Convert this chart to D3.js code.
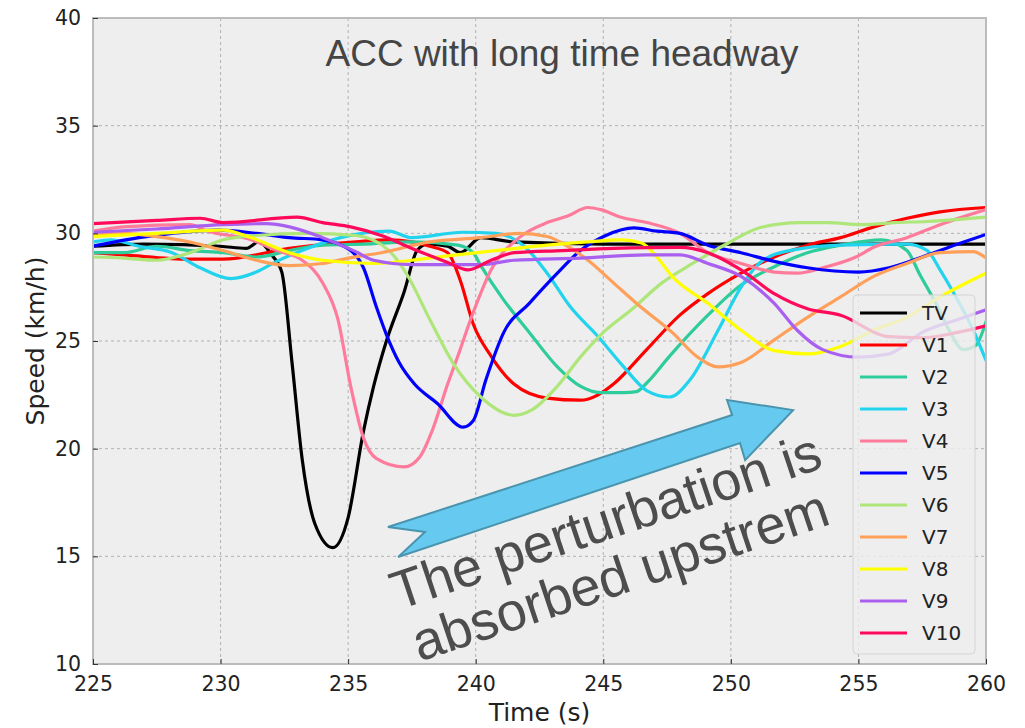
<!DOCTYPE html>
<html><head><meta charset="utf-8">
<script src="https://cdn.jsdelivr.net/npm/d3@7"></script>
<style>body{margin:0;background:#fff}svg{display:block}</style>
</head><body><svg id="c" width="1025" height="728"></svg>
<script>
const seriesNames = ["TV","V1","V2","V3","V4","V5","V6","V7","V8","V9","V10"];
const seriesColors = ["#000000","#ff0000","#2ecc9a","#22d3ee","#ff7b9c","#0000ff","#aee67a","#ffa05a","#ffff00","#a95ff0","#ff0a5a"];
const xTicks = [225,230,235,240,245,250,255,260];
const yTicks = [10,15,20,25,30,35,40];

const TV = [[225,29.4],[227,29.5],[230,29.4],[231,29.3],[231.5,29.6],[232,29.0],[232.4,28.2],[232.8,24],[233.2,19.5],[233.7,16.5],[234.4,15.4],[235.0,16.8],[235.6,20.8],[236.0,22.9],[236.5,25.0],[237.2,27.3],[237.7,29.2],[238.1,29.5],[238.9,29.4],[239.4,29.1],[240.2,29.8],[241.5,29.6],[245,29.5],[260,29.5]];
const V1 = [[225,29.1],[226.2,29.0],[228.8,28.8],[230.1,28.8],[232.7,29.3],[235.3,29.6],[236.6,29.7],[237.5,29.6],[238.2,29.4],[238.9,29.1],[239.4,27.8],[239.9,25.8],[240.6,24.3],[241.5,23.0],[242.8,22.35],[244.1,22.25],[244.8,22.5],[245.4,23.0],[246.7,24.6],[248.0,26.2],[249.1,27.2],[250.4,28.15],[251.7,28.9],[253.0,29.45],[254.3,29.8],[255.6,30.3],[256.9,30.7],[258.2,31.0],[260,31.2]];
const V2 = [[225,29.1],[226.2,29.1],[227.5,29.4],[228.8,29.2],[230.1,29.1],[231.4,28.9],[232.7,29.2],[234,29.45],[235.6,29.5],[237.5,29.6],[239.3,29.45],[239.9,29.1],[240.2,28.5],[241.1,26.9],[242.1,25.4],[243.2,23.8],[244.1,22.9],[244.9,22.6],[245.8,22.6],[246.3,22.65],[246.7,23.05],[247.6,24.3],[249.1,26.2],[250.4,27.6],[251.7,28.45],[253.0,29.1],[254.3,29.45],[255.9,29.7],[256.9,29.2],[257.4,28.1],[258.1,26.6],[258.6,25.4],[259.1,24.6],[259.6,24.8],[260,25.9]];
const V3 = [[225,29.6],[225.7,29.7],[226.8,29.4],[228.1,29.1],[229.2,28.4],[230.4,27.9],[231.4,28.2],[232.2,28.7],[233.4,29.3],[234.7,29.8],[236.6,30.1],[237.5,29.8],[239.5,30.05],[240.8,30.0],[241.9,29.4],[242.8,28.15],[243.7,26.6],[244.8,25.2],[245.8,23.8],[246.7,22.7],[247.6,22.4],[248.4,23.2],[249.5,25.5],[250.4,27.5],[251.1,28.6],[252.3,29.2],[254.3,29.45],[256.9,29.5],[257.7,29.2],[258.2,28.3],[258.7,27.3],[259.5,25.5],[260,24.1]];
const V4 = [[225,30.1],[226.2,30.3],[228.8,30.4],[229.5,30.1],[231.2,29.7],[232.2,29.2],[233.2,28.75],[234,27.7],[234.6,26.0],[235.1,22.9],[235.6,20.5],[236.1,19.55],[237.2,19.15],[237.8,19.6],[238.3,20.85],[238.9,23.0],[239.3,24.3],[239.8,26.0],[240.6,28.3],[241.7,29.8],[242.8,30.5],[243.6,30.8],[244.4,31.2],[244.9,31.1],[245.7,30.75],[246.7,30.5],[248.0,30.0],[249.1,29.1],[250.4,28.6],[251.7,28.2],[252.6,28.15],[253.6,28.4],[254.9,28.9],[255.6,29.35],[256.9,29.8],[258.2,30.4],[260,31.1]];
const V5 = [[225,29.4],[226.8,29.8],[228.1,30.0],[229.9,30.15],[231.4,30.0],[232.7,29.8],[234.0,29.7],[235.1,29.2],[235.6,28.4],[236.1,26.6],[236.5,25.3],[237.0,24.0],[237.6,23.0],[238.5,22.1],[239.5,21.0],[239.9,21.3],[240.4,23.2],[241.1,25.4],[242.1,26.75],[243.2,28.15],[244.1,29.2],[245.1,29.9],[246.2,30.25],[247.1,30.1],[248.0,30.0],[249.1,29.45],[250.4,29.1],[251.7,28.7],[253.0,28.4],[255.0,28.2],[256.2,28.4],[257.5,28.9],[258.9,29.5],[260,29.95]];
const V6 = [[225,28.9],[226.2,28.85],[227.5,28.75],[228.8,29.1],[230.1,29.7],[231.4,29.9],[233.4,30.0],[235.3,29.9],[236.6,29.2],[237.3,28.1],[238.2,26.0],[239.1,24.0],[240.2,22.4],[241.5,21.55],[242.2,21.8],[243.2,22.9],[244.1,24.25],[245.0,25.4],[246.1,26.45],[247.3,27.7],[248.5,28.6],[249.9,29.55],[251.1,30.25],[252.7,30.5],[253.8,30.5],[255.1,30.4],[256.4,30.5],[257.7,30.55],[260,30.75]];
const V7 = [[225,29.9],[226.2,30.0],[227.5,29.85],[228.8,29.6],[230.1,29.2],[231.4,28.75],[232.7,28.5],[234.0,28.6],[235.0,28.85],[236.3,29.1],[238.2,29.6],[240.2,29.8],[241.7,30.0],[242.8,29.85],[243.6,29.4],[244.4,28.75],[245.4,27.7],[246.4,26.65],[247.7,25.4],[248.7,24.25],[249.5,23.8],[250.4,24.0],[251.7,25.05],[253.0,26.1],[254.3,27.05],[255.6,28.0],[256.9,28.6],[258.2,29.1],[259.5,29.15],[260,28.85]];
const V8 = [[225,29.85],[227.5,30.0],[230.1,30.15],[231.2,29.8],[232.7,29.1],[234.0,28.75],[236.0,28.6],[237.5,28.75],[238.9,28.95],[240.8,29.2],[242.8,29.45],[244.4,29.6],[245.7,29.7],[246.5,29.55],[247.1,28.9],[247.7,28.0],[249.1,26.75],[250.4,25.5],[251.7,24.55],[253.0,24.4],[254.3,24.75],[255.6,25.5],[256.9,26.1],[258.2,27.05],[260,28.15]];
const V9 = [[225,30.05],[227.5,30.2],[230.1,30.4],[231.8,30.45],[232.7,30.3],[234.0,29.8],[235.3,29.15],[236.0,28.75],[237.5,28.55],[240.2,28.55],[241.5,28.75],[244.1,28.85],[246.7,29.0],[248.0,29.0],[249.1,28.6],[250.4,28.0],[251.7,26.75],[252.6,25.5],[253.6,24.6],[255.0,24.25],[256.2,24.4],[257.5,25.4],[258.9,26.0],[260,26.45]];
const V10 = [[225,30.45],[227.5,30.6],[229.2,30.7],[230.1,30.5],[233.0,30.75],[234.0,30.5],[235.1,30.3],[236.3,29.9],[237.5,29.3],[238.9,28.65],[239.7,28.3],[240.6,28.75],[241.5,29.1],[243.4,29.2],[245.4,29.3],[248.0,29.35],[249.1,29.1],[250.4,28.3],[251.7,27.2],[253.0,26.5],[254.3,26.2],[256.2,25.2],[257.5,25.15],[258.9,25.4],[260,25.7]];
const seriesData = [TV,V1,V2,V3,V4,V5,V6,V7,V8,V9,V10];

const titleText = "ACC with long time headway";
const noteLines = ["The perturbation is","absorbed upstrem"];
const arrowShape = [[236.56,16.36],[250.05,21.56],[249.85,22.26],[252.44,21.79],[250.56,19.47],[250.36,20.26],[236.96,14.97],[238.01,16.13]];

const svg = d3.select("#c");
const L=93,R=986,T=18,B=664;
const x = d3.scaleLinear().domain([225,260]).range([L,R]);
const y = d3.scaleLinear().domain([10,40]).range([B,T]);

svg.append("rect").attr("x",L).attr("y",T).attr("width",R-L).attr("height",B-T).attr("fill","#eeeeee");
svg.append("g").selectAll("line").data(xTicks).join("line")
  .attr("x1",d=>x(d)).attr("x2",d=>x(d)).attr("y1",T).attr("y2",B)
  .attr("stroke","#b2b2b2").attr("stroke-width",1).attr("stroke-dasharray","3,3");
svg.append("g").selectAll("line").data(yTicks).join("line")
  .attr("y1",d=>y(d)).attr("y2",d=>y(d)).attr("x1",L).attr("x2",R)
  .attr("stroke","#b2b2b2").attr("stroke-width",1).attr("stroke-dasharray","3,3");

svg.append("clipPath").attr("id","clip").append("rect").attr("x",L).attr("y",T).attr("width",R-L).attr("height",B-T);
const line = d3.line().x(d=>x(d[0])).y(d=>y(d[1])).curve(d3.curveMonotoneX);
const lg = svg.append("g").attr("clip-path","url(#clip)");
seriesData.forEach((s,i)=>{
  lg.append("path").attr("d",line(s)).attr("fill","none").attr("stroke",seriesColors[i])
    .attr("stroke-width",3.2).attr("stroke-linejoin","round").attr("stroke-linecap","round");
});

svg.append("rect").attr("x",L).attr("y",T).attr("width",R-L).attr("height",B-T)
  .attr("fill","none").attr("stroke","#bcbcbc").attr("stroke-width",2);

const xa = svg.append("g").attr("transform",`translate(0,${B})`)
  .call(d3.axisBottom(x).tickValues(xTicks).tickSizeInner(-5).tickSizeOuter(0).tickPadding(12).tickFormat(d3.format("d")));
const ya = svg.append("g").attr("transform",`translate(${L},0)`)
  .call(d3.axisLeft(y).tickValues(yTicks).tickSizeInner(-5).tickSizeOuter(0).tickPadding(12).tickFormat(d3.format("d")));
[xa,ya].forEach(a=>{
  a.select(".domain").remove();
  a.selectAll(".tick line").attr("stroke","#333").attr("stroke-width",1);
  a.selectAll(".tick text").attr("font-family","DejaVu Sans").attr("font-size",20.5).attr("fill","#222");
});

svg.append("text").attr("x",(L+R)/2).attr("y",721).attr("text-anchor","middle")
  .attr("font-family","DejaVu Sans").attr("font-size",25).attr("fill","#222").text("Time (s)");
svg.append("text").attr("transform",`translate(44,${(T+B)/2}) rotate(-90)`).attr("text-anchor","middle")
  .attr("font-family","DejaVu Sans").attr("font-size",25).attr("fill","#222").text("Speed (km/h)");

svg.append("text").attr("x",562).attr("y",66).attr("text-anchor","middle")
  .attr("font-family","Liberation Sans, Arial").attr("font-size",37).attr("fill","#454545").text(titleText);

const lgd = svg.append("g");
lgd.append("rect").attr("x",853).attr("y",295).attr("width",122).attr("height",359).attr("rx",4)
  .attr("fill","#eeeeee").attr("fill-opacity",0.8).attr("stroke","#d4d4d4");
seriesNames.forEach((n,i)=>{
  const yy = 313 + i*32;
  lgd.append("line").attr("x1",860).attr("x2",907).attr("y1",yy).attr("y2",yy).attr("stroke",seriesColors[i]).attr("stroke-width",3.2);
  lgd.append("text").attr("x",922).attr("y",yy+7).attr("font-family","DejaVu Sans").attr("font-size",20).attr("fill","#222").text(n);
});

svg.append("polygon").attr("points",arrowShape.map(p=>[x(p[0]),y(p[1])].join(",")).join(" "))
  .attr("fill","#66c9f0").attr("stroke","#4a94ad").attr("stroke-width",2).attr("stroke-linejoin","miter");

const ang = -18.5;
const anchors = [[236.95,12.5],[237.8,10.1]];
noteLines.forEach((t,i)=>{
  svg.append("text").attr("transform",`translate(${x(anchors[i][0])},${y(anchors[i][1])}) rotate(${ang})`)
    .attr("font-family","Liberation Sans, Arial").attr("font-size",54).attr("fill","#4d4d4d").text(t);
});
</script></body></html>
